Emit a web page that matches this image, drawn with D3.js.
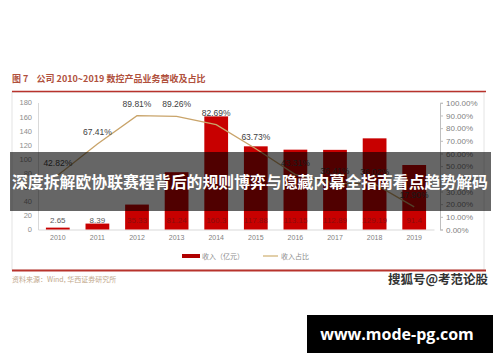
<!DOCTYPE html>
<html>
<head>
<meta charset="utf-8">
<script src="https://cdn.jsdelivr.net/npm/d3@7"></script>
<style>
  body { margin: 0; background: #fff; }
  svg { display: block; }
</style>
</head>
<body>
<div id="chart"></div>
<script>
// data
const years = ['2010', '2011', '2012', '2013', '2014', '2015', '2016', '2017', '2018', '2019']
const revenue = [2.65, 8.39, 35.33, 81.24, 160.3, 117.88, 113.15, 112.89, 129.19, 91.4]
const revenueLabels = ['2.65', '8.39', '35.33', '81.24', '160.3', '117.88', '113.15', '112.89', '129.19', '91.4']
const share = [0.4282, 0.6741, 0.8981, 0.8926, 0.8269, 0.6373, 0.4331, 0.3641, 0.3602, 0.1790]
const leftTicks = [0, 20, 40, 60, 80, 100, 120, 140, 160, 180]
const rightTicks = [0, 0.1, 0.2, 0.3, 0.4, 0.5, 0.6, 0.7, 0.8, 0.9, 1]

const W = 500, H = 362
const cjk = "'Noto Sans CJK SC', 'Noto Sans', sans-serif"
const latin = "'Liberation Sans', Arial, sans-serif"

const svg = d3.select('#chart').append('svg')
    .attr('width', W)
    .attr('height', H)

svg.append('rect').attr('width', W).attr('height', H).attr('fill', '#fff')

// title
svg.append('text')
    .attr('x', 12).attr('y', 81.5)
    .attr('font-family', cjk)
    .attr('font-size', 9)
    .attr('font-weight', 'bold')
    .attr('fill', '#b0503c')
    .style('white-space', 'pre')
    .text('图 7    公司 2010~2019 数控产品业务营收及占比')

// chart frame
svg.append('rect')
    .attr('x', 12).attr('y', 92).attr('width', 472).attr('height', 178)
    .attr('fill', 'none').attr('stroke', '#e4e4e4')
svg.append('line')
    .attr('x1', 12).attr('x2', 486).attr('y1', 91.5).attr('y2', 91.5)
    .attr('stroke', '#b8332c').attr('stroke-width', 1.5)
svg.append('line')
    .attr('x1', 12).attr('x2', 486).attr('y1', 270.5).attr('y2', 270.5)
    .attr('stroke', '#b8332c').attr('stroke-width', 2)

// scales
const x = d3.scaleBand().domain(years).range([38, 434]).paddingInner(0.4).paddingOuter(0.2)
const yL = d3.scaleLinear().domain([0, 180]).range([229.5, 102.5])
const yR = d3.scaleLinear().domain([0, 1]).range([229.5, 102.8])

// left axis
const axL = svg.append('g')
    .attr('transform', 'translate(38,0)')
    .call(d3.axisLeft(yL).tickValues(leftTicks).tickSize(0).tickPadding(6))
axL.select('.domain').attr('stroke', '#d9d9d9')
axL.selectAll('text').attr('font-family', latin).attr('font-size', 7.5).attr('fill', '#8c8c8c')

// right axis
const axR = svg.append('g')
    .attr('transform', 'translate(440,0)')
    .call(d3.axisRight(yR).tickValues(rightTicks).tickFormat(d3.format('.2%')).tickSize(3).tickPadding(3))
axR.select('.domain').attr('stroke', '#bfbfbf')
axR.selectAll('line').attr('stroke', '#bfbfbf')
axR.selectAll('text').attr('font-family', latin).attr('font-size', 8).attr('fill', '#7f7f7f')

// x axis
const axX = svg.append('g')
    .attr('transform', 'translate(0,229.5)')
    .call(d3.axisBottom(x).tickSize(0).tickPadding(6))
axX.select('.domain').attr('stroke', '#d9d9d9')
axX.selectAll('text').attr('font-family', latin).attr('font-size', 7).attr('fill', '#7f7f7f')

// bars
svg.append('g').selectAll('rect')
    .data(revenue)
    .join('rect')
    .attr('x', (d, i) => x(years[i]))
    .attr('width', x.bandwidth())
    .attr('y', d => yL(d))
    .attr('height', d => yL(0) - yL(d))
    .attr('fill', '#c80000')

// bar labels sit at a fixed height near the base
const labelY = 222.5
svg.append('g').selectAll('text')
    .data(revenue)
    .join('text')
    .attr('x', (d, i) => x(years[i]) + x.bandwidth() / 2)
    .attr('y', labelY)
    .attr('text-anchor', 'middle')
    .attr('font-family', latin)
    .attr('font-size', 8)
    .attr('fill', d => yL(d) < labelY - 8 ? '#8a0d0d' : '#595959')
    .text((d, i) => revenueLabels[i])

// share line
const line = d3.line()
    .x((d, i) => x(years[i]) + x.bandwidth() / 2)
    .y(d => yR(d))
svg.append('path')
    .datum(share)
    .attr('d', line)
    .attr('fill', 'none')
    .attr('stroke', '#c9a46a')
    .attr('stroke-width', 1.3)

svg.append('g').selectAll('text')
    .data(share)
    .join('text')
    .attr('x', (d, i) => x(years[i]) + x.bandwidth() / 2)
    .attr('y', d => yR(d) - 9)
    .attr('text-anchor', 'middle')
    .attr('font-family', latin)
    .attr('font-size', 8.5)
    .attr('fill', '#404040')
    .text(d => d3.format('.2%')(d))

// legend
const lg = svg.append('g').attr('transform', 'translate(182,256)')
lg.append('rect').attr('x', 0).attr('y', -2).attr('width', 18).attr('height', 4).attr('fill', '#b00000')
lg.append('text').attr('x', 20).attr('y', 2.5)
    .attr('font-family', cjk).attr('font-size', 7).attr('fill', '#8c8c8c')
    .text('收入（亿元）')
lg.append('line').attr('x1', 81).attr('x2', 96).attr('y1', 0).attr('y2', 0)
    .attr('stroke', '#d9bf8c').attr('stroke-width', 1.5)
lg.append('text').attr('x', 99).attr('y', 2.5)
    .attr('font-family', cjk).attr('font-size', 7).attr('fill', '#8c8c8c')
    .text('收入占比')

// source
svg.append('text')
    .attr('x', 12).attr('y', 282)
    .attr('font-family', cjk).attr('font-size', 7).attr('fill', '#c2a88c')
    .text('资料来源：Wind, 华西证券研究所')

// watermark
svg.append('text')
    .attr('x', 488).attr('y', 284)
    .attr('text-anchor', 'end')
    .attr('font-family', cjk).attr('font-size', 12.5).attr('font-weight', 'bold')
    .attr('fill', '#333').attr('stroke', '#fff').attr('stroke-width', 0.6)
    .attr('paint-order', 'stroke')
    .text('搜狐号@考范论股')

// banner overlay
svg.append('rect')
    .attr('x', 10).attr('y', 152).attr('width', 481).attr('height', 59)
    .attr('fill', 'rgba(0,0,0,0.6)')
svg.append('text')
    .attr('x', 250).attr('y', 187.5)
    .attr('text-anchor', 'middle')
    .attr('font-family', cjk).attr('font-size', 15.8).attr('font-weight', 'bold')
    .attr('fill', '#fff')
    .attr('textLength', 476).attr('lengthAdjust', 'spacingAndGlyphs')
    .text('深度拆解欧协联赛程背后的规则博弈与隐藏内幕全指南看点趋势解码')

// url box
svg.append('rect')
    .attr('x', 307).attr('y', 315).attr('width', 186).attr('height', 38)
    .attr('fill', '#000')
svg.append('text')
    .attr('x', 397).attr('y', 339.5)
    .attr('text-anchor', 'middle')
    .attr('font-family', "'Open Sans', 'DejaVu Sans', sans-serif").attr('font-size', 16).attr('font-weight', 'bold')
    .attr('fill', '#fff')
    .text('www.mode-pg.com')
</script>
</body>
</html>
